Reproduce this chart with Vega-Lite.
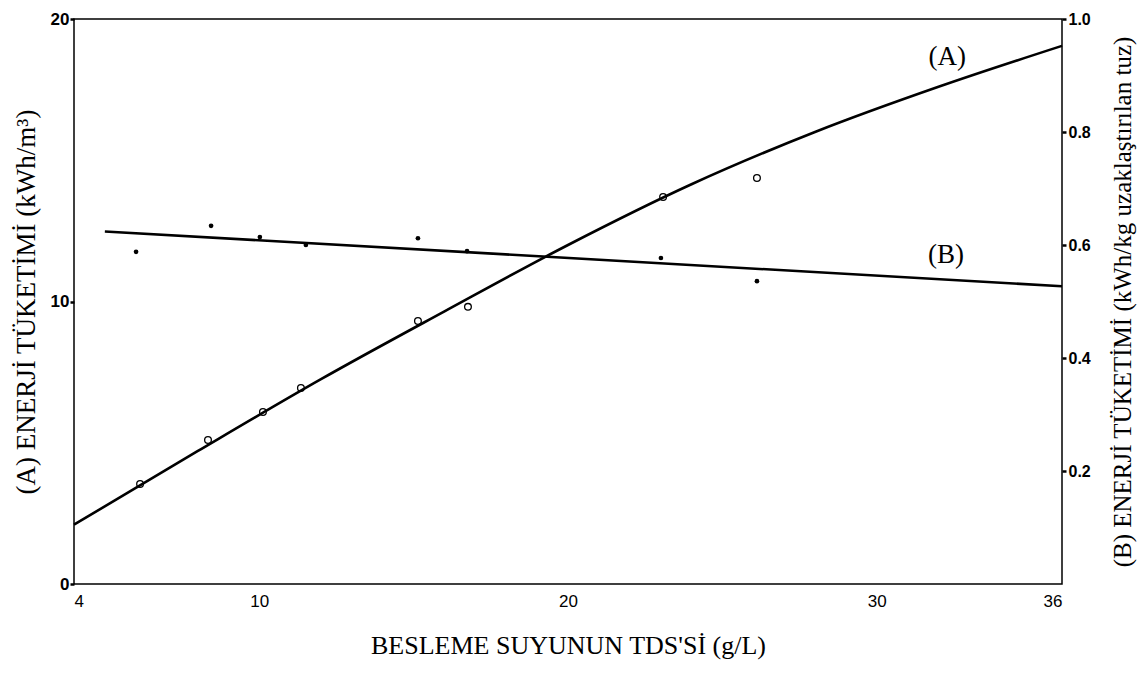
{
  "$schema": "https://vega.github.io/schema/vega-lite/v6.json",
  "width": 988,
  "height": 565,
  "autosize": {"type": "none"},
  "padding": {"left": 74, "top": 19, "right": 86, "bottom": 89},
  "background": "white",
  "config": {
    "view": {"stroke": "black", "strokeWidth": 1.5},
    "axis": {
      "domainColor": "black",
      "tickColor": "black",
      "labelColor": "black",
      "titleColor": "black",
      "grid": false,
      "titleFont": "Liberation Serif",
      "titleFontWeight": "normal",
      "labelFont": "Liberation Sans",
      "labelFontWeight": "bold"
    }
  },
  "datasets": {
    "a_fit": [
      {"tds": 4, "energy": 2.1},
      {"tds": 8, "energy": 4.7},
      {"tds": 12, "energy": 7.25},
      {"tds": 16, "energy": 9.65},
      {"tds": 20, "energy": 12.0},
      {"tds": 24, "energy": 14.15},
      {"tds": 28, "energy": 16.0},
      {"tds": 32, "energy": 17.6},
      {"tds": 36, "energy": 19.05}
    ],
    "a_obs": [
      {"tds": 6.14, "energy": 3.54},
      {"tds": 8.34, "energy": 5.10},
      {"tds": 10.12, "energy": 6.09},
      {"tds": 11.35, "energy": 6.94},
      {"tds": 15.14, "energy": 9.31},
      {"tds": 16.76, "energy": 9.81},
      {"tds": 23.08, "energy": 13.70},
      {"tds": 26.12, "energy": 14.37}
    ],
    "b_fit": [
      {"tds": 5.0, "specific": 0.624},
      {"tds": 36.0, "specific": 0.527}
    ],
    "b_obs": [
      {"tds": 6.01, "specific": 0.588},
      {"tds": 8.44, "specific": 0.634},
      {"tds": 10.02, "specific": 0.614},
      {"tds": 11.51, "specific": 0.600},
      {"tds": 15.14, "specific": 0.612},
      {"tds": 16.73, "specific": 0.589},
      {"tds": 23.01, "specific": 0.577},
      {"tds": 26.12, "specific": 0.536}
    ],
    "a_label": [{"tds": 32.28, "energy": 18.65, "name": "(A)"}],
    "b_label": [{"tds": 32.24, "specific": 0.582, "name": "(B)"}]
  },
  "encoding": {
    "x": {
      "field": "tds",
      "type": "quantitative",
      "scale": {"domain": [4, 36], "nice": false, "zero": false},
      "axis": {
        "values": [4, 10, 20, 30, 36],
        "tickSize": 0,
        "labelPadding": 9,
        "labelFontSize": 17,
        "labelFontWeight": "normal",
        "domain": false,
        "title": "BESLEME SUYUNUN TDS'Sİ (g/L)",
        "titleFontSize": 26,
        "titlePadding": 23
      }
    }
  },
  "layer": [
    {
      "encoding": {
        "y": {
          "field": "energy",
          "type": "quantitative",
          "scale": {"domain": [0, 20], "nice": false},
          "axis": {
            "orient": "left",
            "values": [0, 10, 20],
            "tickSize": 4,
            "tickWidth": 2.5,
            "labelPadding": 1,
            "labelFontSize": 17,
            "domain": false,
            "title": "(A) ENERJİ TÜKETİMİ (kWh/m³)",
            "titleFontSize": 27,
            "titlePadding": 10
          }
        }
      },
      "layer": [
        {
          "data": {"name": "a_fit"},
          "mark": {"type": "line", "color": "black", "strokeWidth": 2.6, "interpolate": "monotone"}
        },
        {
          "data": {"name": "a_obs"},
          "mark": {"type": "point", "shape": "circle", "filled": false, "color": "black", "strokeWidth": 1.3, "size": 45, "opacity": 1}
        },
        {
          "data": {"name": "a_label"},
          "mark": {"type": "text", "font": "Liberation Serif", "fontSize": 27, "color": "black"},
          "encoding": {"text": {"field": "name"}}
        }
      ]
    },
    {
      "encoding": {
        "y": {
          "field": "specific",
          "type": "quantitative",
          "scale": {"domain": [0, 1], "nice": false},
          "axis": {
            "orient": "right",
            "values": [0.2, 0.4, 0.6, 0.8, 1.0],
            "format": ".1f",
            "tickSize": 4,
            "tickWidth": 2.5,
            "labelPadding": 2,
            "labelFontSize": 16,
            "domain": false,
            "title": "(B) ENERJİ TÜKETİMİ (kWh/kg uzaklaştırılan tuz)",
            "titleAngle": -90,
            "titleFontSize": 25,
            "titlePadding": 45
          }
        }
      },
      "layer": [
        {
          "data": {"name": "b_fit"},
          "mark": {"type": "line", "color": "black", "strokeWidth": 2.6}
        },
        {
          "data": {"name": "b_obs"},
          "mark": {"type": "point", "shape": "circle", "filled": true, "color": "black", "size": 22, "opacity": 1}
        },
        {
          "data": {"name": "b_label"},
          "mark": {"type": "text", "font": "Liberation Serif", "fontSize": 27, "color": "black"},
          "encoding": {"text": {"field": "name"}}
        }
      ]
    }
  ],
  "resolve": {"scale": {"y": "independent"}}
}
